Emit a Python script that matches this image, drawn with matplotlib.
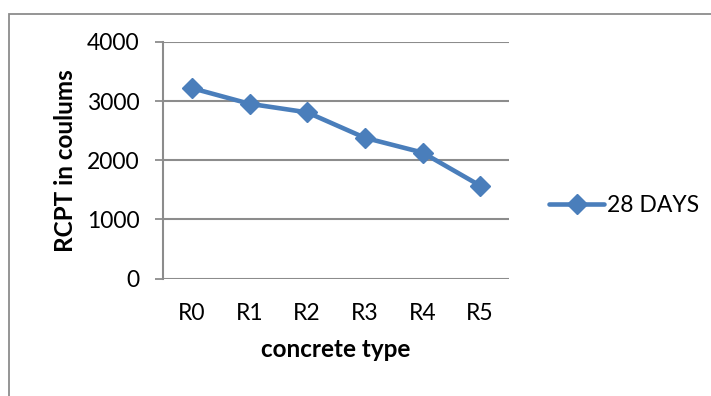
import matplotlib
matplotlib.use("Agg")
import matplotlib.pyplot as plt
from matplotlib.patches import Rectangle

# RCPT results after 28 days of curing
concrete_types = ["R0", "R1", "R2", "R3", "R4", "R5"]
rcpt_28_days = [3220, 2955, 2810, 2380, 2130, 1570]
y_ticks = [0, 1000, 2000, 3000, 4000]

plt.rcParams['font.family'] = ['Lato', 'DejaVu Sans']

blue = '#4A7EBB'
grid_gray = '#8C8C8C'
fs = 16.5
fs_title = 17.5

fig = plt.figure(figsize=(7.11, 3.96), dpi=100)
# plot area in figure fractions
ax = fig.add_axes([163/711, 1 - 278.5/396, 346/711, 236.5/396])

x = list(range(len(concrete_types)))
ax.plot(x, rcpt_28_days, color=blue, lw=3.3, marker='D', markersize=10.5,
        markeredgecolor=blue, markerfacecolor=blue, label='28 DAYS',
        solid_capstyle='round', zorder=3)

ax.set_xlim(-0.5, len(concrete_types) - 0.5)
ax.set_ylim(0, 4000)
ax.set_yticks(y_ticks)
ax.set_xticks(x)
ax.set_xticklabels(concrete_types)
ax.tick_params(axis='both', labelsize=fs, colors='black')
ax.tick_params(axis='y', direction='out', length=6, width=1.3, color=grid_gray, pad=11)
ax.tick_params(axis='x', length=0, pad=18)

ax.yaxis.grid(True, color=grid_gray, lw=1.5)
ax.set_axisbelow(True)
for side in ['top', 'right', 'bottom']:
    ax.spines[side].set_visible(False)
ax.spines['left'].set_color(grid_gray)
ax.spines['left'].set_linewidth(1.5)

ax.set_xlabel('concrete type', fontsize=fs_title, fontweight='bold', labelpad=10)
ax.set_ylabel('RCPT in coulums', fontsize=fs_title, fontweight='bold', labelpad=7)

ax.legend(loc='center left', bbox_to_anchor=(549/711, 1 - 206/396),
          bbox_transform=fig.transFigure, frameon=False, fontsize=fs,
          handlelength=2.4, handletextpad=0.15, borderaxespad=0, borderpad=0)

# chart frame
fig.patches.append(Rectangle((9/711, -0.1), 1.0, 1 - 14/396 + 0.1,
                             transform=fig.transFigure, fill=False,
                             edgecolor='#8C8C8C', lw=1.3))

fig.savefig('out.png', dpi=100)
